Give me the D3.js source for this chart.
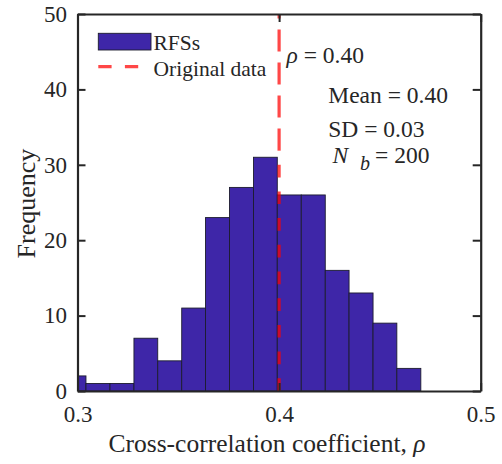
<!DOCTYPE html>
<html>
<head>
<meta charset="utf-8">
<script src="https://cdn.jsdelivr.net/npm/d3@7"></script>
<style>
  body { margin: 0; background: #fff; }
  svg text { font-family: "Liberation Serif", "Times New Roman", serif; fill: #262626; }
</style>
</head>
<body>
<div id="chart"></div>
<script>
// histogram bins (edges) and counts
const binEdges = [0.2924, 0.3042, 0.3161, 0.3280, 0.3398, 0.3517, 0.3635, 0.3754,
                  0.3873, 0.3991, 0.4110, 0.4229, 0.4347, 0.4466, 0.4584, 0.4703];
const counts = [2, 1, 1, 7, 4, 11, 23, 27, 31, 26, 26, 16, 13, 9, 3];
const xTicks = [0.3, 0.4, 0.5];
const yTicks = [0, 10, 20, 30, 40, 50];
const rhoOriginal = 0.40;
const stats = {mean: "0.40", sd: "0.03", nb: "200"};

const W = 502, H = 464;
const margin = {top: 14, right: 21.3, bottom: 73, left: 77.5},
    width = W - margin.left - margin.right,
    height = H - margin.top - margin.bottom;

const svg = d3.select("#chart")
    .append("svg")
    .attr("width", W)
    .attr("height", H);

const g = svg.append("g")
    .attr("transform", `translate(${margin.left},${margin.top})`);

const x = d3.scaleLinear().domain([0.3, 0.5]).range([0, width]);
const y = d3.scaleLinear().domain([0, 50]).range([height, 0]);

g.append("clipPath").attr("id", "clip")
  .append("rect").attr("width", width).attr("height", height);

const bins = counts.map((c, i) => ({x0: binEdges[i], x1: binEdges[i + 1], n: c}));

const lineColor = "#ff0000";
const splitY = 31.9; // dash pattern changes above the tallest bar

// bars
g.append("g")
    .attr("clip-path", "url(#clip)")
    .selectAll("rect")
    .data(bins)
    .join("rect")
    .attr("x", d => x(d.x0))
    .attr("y", d => y(d.n))
    .attr("width", d => x(d.x1) - x(d.x0))
    .attr("height", d => y(0) - y(d.n))
    .attr("fill", "#3e26a8")
    .attr("stroke", "#1c1c2e")
    .attr("stroke-width", 0.9);

// red reference line at the original data value
g.append("line")
    .attr("x1", x(rhoOriginal)).attr("x2", x(rhoOriginal))
    .attr("y1", y(0)).attr("y2", y(splitY))
    .attr("stroke", lineColor)
    .attr("stroke-opacity", 0.72)
    .attr("stroke-width", 3.2)
    .attr("stroke-dasharray", "12.7,14");

g.append("line")
    .attr("x1", x(rhoOriginal)).attr("x2", x(rhoOriginal))
    .attr("y1", y(splitY)).attr("y2", y(50))
    .attr("stroke", lineColor)
    .attr("stroke-opacity", 0.72)
    .attr("stroke-width", 3.2)
    .attr("stroke-dasharray", "22,11");

// axes, ticks pointing inward on all four sides
const tickFont = "23px";
const axB = g.append("g").attr("transform", `translate(0,${height})`)
    .call(d3.axisBottom(x).tickValues(xTicks).tickFormat(d3.format(".1f"))
        .tickSizeInner(-8).tickSizeOuter(0).tickPadding(14.5));
const axL = g.append("g")
    .call(d3.axisLeft(y).tickValues(yTicks).tickSizeInner(-8).tickSizeOuter(0).tickPadding(10.5));
const axT = g.append("g")
    .call(d3.axisTop(x).tickValues(xTicks).tickFormat("").tickSizeInner(-8).tickSizeOuter(0));
const axR = g.append("g").attr("transform", `translate(${width},0)`)
    .call(d3.axisRight(y).tickValues(yTicks).tickFormat("").tickSizeInner(-8).tickSizeOuter(0));

[axB, axL, axT, axR].forEach(a => {
  a.attr("font-family", null);
  a.selectAll(".domain").attr("stroke", "#262626").attr("stroke-width", 2.2);
  a.selectAll(".tick line").attr("stroke", "#262626").attr("stroke-width", 2);
  a.selectAll(".tick text").style("font-size", tickFont)
      .style("font-family", '"Liberation Serif", "Times New Roman", serif')
      .attr("fill", "#262626");
});

// axis labels
const xl = svg.append("text")
    .attr("x", 267)
    .attr("y", 452)
    .attr("text-anchor", "middle")
    .style("font-size", "25.5px");
xl.append("tspan").text("Cross-correlation coefficient,  ");
xl.append("tspan").style("font-style", "italic").text("ρ");

svg.append("text")
    .attr("transform", `translate(35,${margin.top + height / 2 + 1}) rotate(-90)`)
    .attr("text-anchor", "middle")
    .style("font-size", "26px")
    .text("Frequency");

// annotations
const annFont = "23.5px";
const ann = svg.append("text")
    .attr("x", 286.5).attr("y", 63.3)
    .style("font-size", annFont);
ann.append("tspan").style("font-style", "italic").text("ρ");
ann.append("tspan").text(" = " + rhoOriginal.toFixed(2));

svg.append("text").attr("x", 328.3).attr("y", 103.3)
    .style("font-size", annFont).text("Mean = " + stats.mean);
svg.append("text").attr("x", 328.3).attr("y", 136.7)
    .style("font-size", annFont).text("SD = " + stats.sd);
const nb = svg.append("text").attr("x", 332.5).attr("y", 163)
    .style("font-size", annFont);
nb.append("tspan").style("font-style", "italic").text("N");
nb.append("tspan").attr("x", 360).attr("dy", 7).style("font-style", "italic")
    .style("font-size", "20px").text("b");
nb.append("tspan").attr("x", 375).attr("dy", -7).text("= " + stats.nb);

// legend
const leg = svg.append("g");
leg.append("rect")
    .attr("x", 98.3).attr("y", 33.3).attr("width", 52.7).attr("height", 16.7)
    .attr("fill", "#3e26a8").attr("stroke", "#1c1c2e").attr("stroke-width", 0.9);
leg.append("text").attr("x", 153.5).attr("y", 50)
    .style("font-size", "21.5px").text("RFSs");
leg.append("line")
    .attr("x1", 98.3).attr("x2", 138.3).attr("y1", 66.7).attr("y2", 66.7)
    .attr("stroke", lineColor).attr("stroke-opacity", 0.72)
    .attr("stroke-width", 3.2).attr("stroke-dasharray", "13.3,13.3");
leg.append("text").attr("x", 153.5).attr("y", 76)
    .style("font-size", "21.5px").text("Original data");
</script>
</body>
</html>
